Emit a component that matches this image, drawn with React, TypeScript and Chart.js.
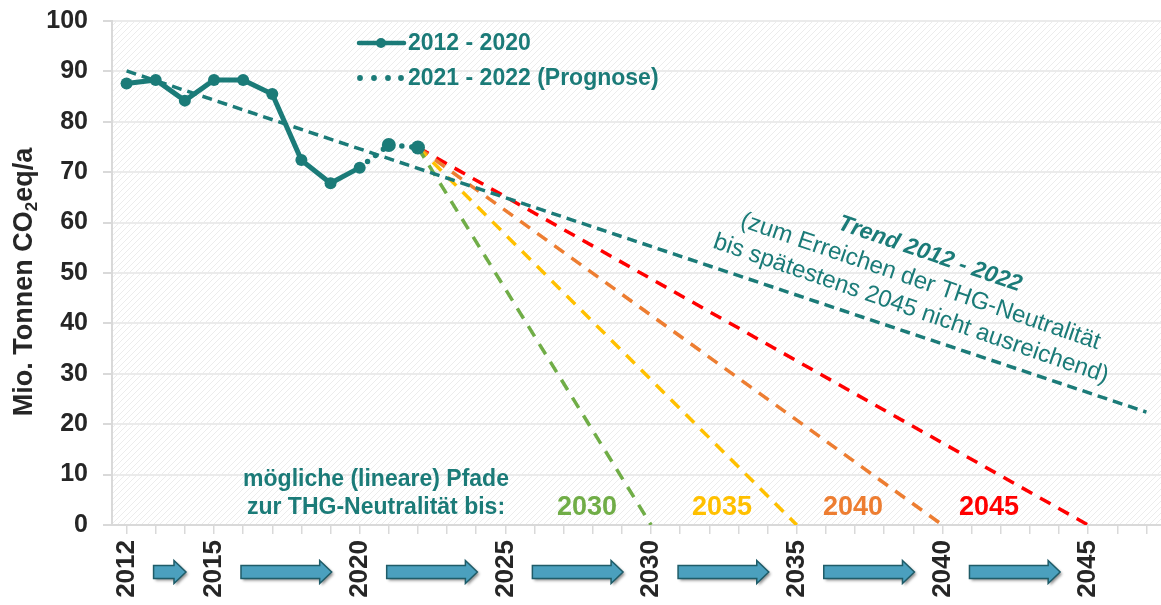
import React, { useEffect, useRef } from 'react';
import { Chart, registerables } from 'chart.js';

Chart.register(...registerables);

// ---------- DATA ----------
const years = [
  '2012', '2013', '2014', '2015', '2016', '2017', '2018', '2019', '2020', '2021',
  '2022', '2023', '2024', '2025', '2026', '2027', '2028', '2029', '2030', '2031',
  '2032', '2033', '2034', '2035', '2036', '2037', '2038', '2039', '2040', '2041',
  '2042', '2043', '2044', '2045', '2046', '2047',
];
const shownTickLabels = ['2012', '2015', '2020', '2025', '2030', '2035', '2040', '2045'];

const actualYears = ['2012', '2013', '2014', '2015', '2016', '2017', '2018', '2019', '2020'];
const actualValues = [87.6, 88.3, 84.2, 88.3, 88.3, 85.5, 72.4, 67.8, 70.9];

const forecastYears = ['2020', '2021', '2022'];
const forecastValues = [70.9, 75.4, 74.9];

const trendYears = ['2012', '2047'];
const trendValues = [90.1, 22.4];

const pathStartYear = '2022';
const pathStartValue = 74.9;
const pathTargetYears = ['2030', '2035', '2040', '2045'];
const pathTargetValue = 0;
const pathColors = ['#70AD47', '#FFC000', '#ED7D31', '#FF0000'];

const yMin = 0;
const yMax = 100;
const yStep = 10;

// ---------- STYLE ----------
const FONT = '"Liberation Sans", Arial, Helvetica, sans-serif';
const TEAL = '#1B7B78';
const AXIS_TEXT = '#262626';
const VIEW_W = 1161;
const VIEW_H = 605;
const EXTRA_RIGHT = 6; // compensates Chart.js' right label padding

function toSeries(ys: string[], vs: number[]): (number | null)[] {
  return years.map((y) => {
    const i = ys.indexOf(y);
    return i >= 0 ? vs[i] : null;
  });
}

const decorPlugin = {
  id: 'decor',
  beforeDraw(chart: any) {
    const { ctx, chartArea: a } = chart;
    const N = 6;
    const tile = document.createElement('canvas');
    tile.width = N;
    tile.height = N;
    const t = tile.getContext('2d')!;
    t.fillStyle = '#ffffff';
    t.fillRect(0, 0, N, N);
    t.strokeStyle = '#ececec';
    t.lineWidth = 1;
    t.beginPath();
    t.moveTo(0, N);
    t.lineTo(N, 0);
    t.moveTo(-1, 1);
    t.lineTo(1, -1);
    t.moveTo(N - 1, N + 1);
    t.lineTo(N + 1, N - 1);
    t.stroke();
    const pat = ctx.createPattern(tile, 'repeat');
    ctx.save();
    ctx.fillStyle = pat;
    ctx.fillRect(a.left, a.top, a.right - a.left, a.bottom - a.top);
    ctx.restore();
  },
  afterDraw(chart: any) {
    const { ctx } = chart;
    const xs = chart.scales.x;

    // ---- y-axis title with subscript ----
    ctx.save();
    ctx.fillStyle = AXIS_TEXT;
    ctx.translate(32, 282);
    ctx.rotate(-Math.PI / 2);
    ctx.textBaseline = 'alphabetic';
    ctx.textAlign = 'left';
    const big = `bold 27px ${FONT}`;
    const small = `bold 17px ${FONT}`;
    ctx.font = big;
    const p1 = 'Mio. Tonnen CO';
    const p3 = 'eq/a';
    const w1 = ctx.measureText(p1).width;
    const w3 = ctx.measureText(p3).width;
    ctx.font = small;
    const w2 = ctx.measureText('2').width;
    const total = w1 + w2 + w3;
    let x0 = -total / 2;
    ctx.font = big;
    ctx.fillText(p1, x0, 0);
    x0 += w1;
    ctx.font = small;
    ctx.fillText('2', x0, 5);
    x0 += w2;
    ctx.font = big;
    ctx.fillText(p3, x0, 0);
    ctx.restore();

    // ---- arrows between x labels ----
    const cy = 572;
    for (let i = 0; i < shownTickLabels.length - 1; i++) {
      const xa = xs.getPixelForValue(years.indexOf(shownTickLabels[i])) + 27;
      const xb = xs.getPixelForValue(years.indexOf(shownTickLabels[i + 1])) - 28;
      const head = 12;
      const bh = 6.5;
      const hh = 11.5;
      ctx.save();
      ctx.beginPath();
      ctx.moveTo(xa, cy - bh);
      ctx.lineTo(xb - head, cy - bh);
      ctx.lineTo(xb - head, cy - hh);
      ctx.lineTo(xb, cy);
      ctx.lineTo(xb - head, cy + hh);
      ctx.lineTo(xb - head, cy + bh);
      ctx.lineTo(xa, cy + bh);
      ctx.closePath();
      ctx.shadowColor = 'rgba(0,0,0,0.45)';
      ctx.shadowBlur = 3;
      ctx.shadowOffsetX = 2;
      ctx.shadowOffsetY = 2;
      ctx.fillStyle = '#4BA0BE';
      ctx.fill();
      ctx.shadowColor = 'rgba(0,0,0,0)';
      ctx.strokeStyle = '#1F5C68';
      ctx.lineWidth = 1.5;
      ctx.stroke();
      ctx.restore();
    }

    // ---- legend ----
    ctx.save();
    ctx.strokeStyle = TEAL;
    ctx.fillStyle = TEAL;
    ctx.lineWidth = 4.5;
    ctx.lineCap = 'round';
    ctx.beginPath();
    ctx.moveTo(359, 43);
    ctx.lineTo(404, 43);
    ctx.stroke();
    ctx.beginPath();
    ctx.arc(381, 43, 5, 0, Math.PI * 2);
    ctx.fill();
    [360, 374, 388, 401].forEach((dx) => {
      ctx.beginPath();
      ctx.arc(dx, 78, 2.9, 0, Math.PI * 2);
      ctx.fill();
    });
    ctx.font = `bold 23px ${FONT}`;
    ctx.textAlign = 'left';
    ctx.textBaseline = 'middle';
    ctx.fillText('2012 - 2020', 408, 44);
    ctx.fillText('2021 - 2022 (Prognose)', 408, 79);
    ctx.restore();

    // ---- path annotation ----
    ctx.save();
    ctx.textAlign = 'center';
    ctx.textBaseline = 'middle';
    ctx.fillStyle = TEAL;
    ctx.font = `bold 23px ${FONT}`;
    ctx.fillText('mögliche (lineare) Pfade', 376, 480);
    ctx.fillText('zur THG-Neutralität bis:', 376, 508);
    ctx.font = `bold 27px ${FONT}`;
    const yearLabelX = [587, 722, 853, 989];
    pathTargetYears.forEach((y, i) => {
      ctx.fillStyle = pathColors[i];
      ctx.fillText(y, yearLabelX[i], 508);
    });
    ctx.restore();

    // ---- trend annotation (rotated) ----
    const ang = (19 * Math.PI) / 180;
    const cx = 911;
    const cyy = 309;
    const px = Math.sin(ang);
    const py = -Math.cos(ang);
    const lines = [
      { text: 'Trend 2012 - 2022', font: `italic bold 23px ${FONT}`, off: 58 },
      { text: '(zum Erreichen der THG-Neutralität', font: `24px ${FONT}`, off: 29 },
      { text: 'bis spätestens 2045 nicht ausreichend)', font: `24px ${FONT}`, off: 0 },
    ];
    lines.forEach((l) => {
      ctx.save();
      ctx.translate(cx + px * l.off, cyy + py * l.off);
      ctx.rotate(ang);
      ctx.font = l.font;
      ctx.fillStyle = TEAL;
      ctx.textAlign = 'center';
      ctx.textBaseline = 'middle';
      ctx.fillText(l.text, 0, 0);
      ctx.restore();
    });
  },
};

export default function App() {
  const ref = useRef<HTMLCanvasElement | null>(null);

  useEffect(() => {
    const canvas = ref.current;
    if (!canvas) return;

    const pathDatasets = pathTargetYears.map((ty, i) => ({
      label: `Pfad ${ty}`,
      data: years.map((y) => (y === pathStartYear ? pathStartValue : y === ty ? pathTargetValue : null)),
      borderColor: pathColors[i],
      backgroundColor: pathColors[i],
      borderWidth: 3.5,
      borderDash: [12, 9],
      pointRadius: 0,
      spanGaps: true,
      tension: 0,
    }));

    const chart = new Chart(canvas, {
      type: 'line',
      data: {
        labels: years,
        datasets: [
          {
            label: '2012 - 2020',
            data: toSeries(actualYears, actualValues),
            borderColor: TEAL,
            backgroundColor: TEAL,
            borderWidth: 5,
            pointRadius: 6,
            pointBorderWidth: 0,
            pointBackgroundColor: TEAL,
            tension: 0,
            spanGaps: false,
          },
          {
            label: '2021 - 2022 (Prognose)',
            data: toSeries(forecastYears, forecastValues),
            borderColor: TEAL,
            backgroundColor: TEAL,
            borderWidth: 5.5,
            borderDash: [0, 10],
            borderCapStyle: 'round',
            pointRadius: (c: any) => (c.raw == null || years[c.dataIndex] === forecastYears[0] ? 0 : 7),
            pointBorderWidth: 0,
            pointBackgroundColor: TEAL,
            tension: 0,
          },
          {
            label: 'Trend 2012 - 2022',
            data: toSeries(trendYears, trendValues),
            borderColor: TEAL,
            backgroundColor: TEAL,
            borderWidth: 3.5,
            borderDash: [10, 6],
            pointRadius: 0,
            spanGaps: true,
            tension: 0,
          },
          ...pathDatasets,
        ] as any,
      },
      options: {
        responsive: false,
        animation: false,
        devicePixelRatio: 1,
        layout: { padding: { top: 21, right: 0, left: 0, bottom: 0 } },
        plugins: {
          legend: { display: false },
          tooltip: { enabled: false },
        },
        scales: {
          x: {
            type: 'category',
            offset: true,
            grid: {
              display: true,
              drawOnChartArea: false,
              drawTicks: true,
              tickLength: 9,
              color: '#d9d9d9',
              lineWidth: 1.5,
            },
            border: { display: true, color: '#d9d9d9', width: 2 },
            ticks: {
              autoSkip: false,
              maxRotation: 90,
              minRotation: 90,
              padding: 6,
              color: AXIS_TEXT,
              font: { family: FONT, size: 26, weight: 'bold' },
              callback: (_v: any, i: number) => (shownTickLabels.includes(years[i]) ? years[i] : ''),
            },
            afterFit: (s: any) => {
              s.height = 80;
              s.paddingLeft = 0;
              s.paddingRight = 0;
            },
          },
          y: {
            min: yMin,
            max: yMax,
            grid: {
              color: '#ebebeb',
              lineWidth: 2,
              tickColor: '#d9d9d9',
              tickLength: 9,
            },
            border: { display: true, color: '#d9d9d9', width: 2 },
            ticks: {
              stepSize: yStep,
              padding: 15,
              color: AXIS_TEXT,
              font: { family: FONT, size: 25, weight: 'bold' },
            },
            afterFit: (s: any) => {
              s.width = 112;
              s.paddingTop = 0;
              s.paddingBottom = 0;
            },
          },
        },
      } as any,
      plugins: [decorPlugin],
    });

    return () => chart.destroy();
  }, []);

  return (
    <div
      style={{
        position: 'fixed',
        left: 0,
        top: 0,
        width: VIEW_W,
        height: VIEW_H,
        overflow: 'hidden',
        background: '#fff',
      }}
    >
      <canvas
        ref={ref}
        width={VIEW_W + EXTRA_RIGHT}
        height={VIEW_H}
        style={{ display: 'block', width: VIEW_W + EXTRA_RIGHT, height: VIEW_H }}
      />
    </div>
  );
}
